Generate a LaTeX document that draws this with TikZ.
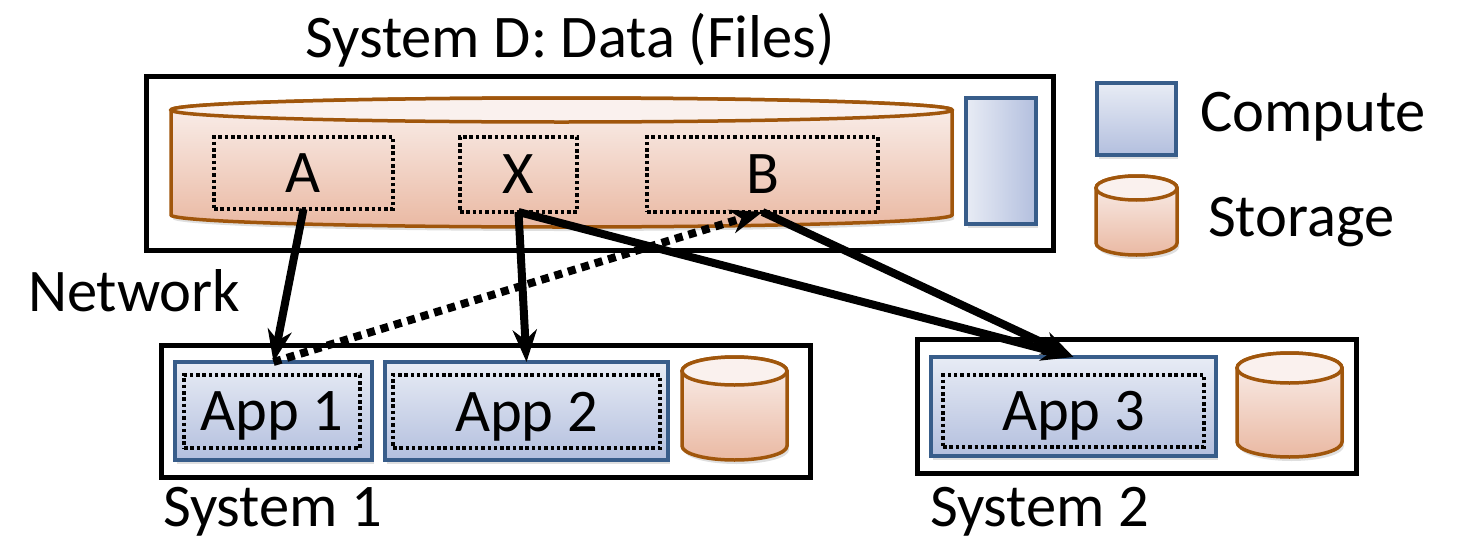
\documentclass[tikz,border=0pt]{standalone}
\usepackage{fontspec}
\setmainfont{Carlito}
\usetikzlibrary{arrows.meta,shadows}
\definecolor{cEdge}{HTML}{385D8A}
\definecolor{cTop}{HTML}{E8ECF5}
\definecolor{cBot}{HTML}{B3BFDE}
\definecolor{sEdge}{HTML}{A0560C}
\definecolor{sTop}{HTML}{FAF1EE}
\definecolor{sBot}{HTML}{EAB9A3}
\newcommand\storecyl[5]{%
  \pgfmathsetmacro\cylrx{(#2-#1)/2}%
  \pgfmathsetmacro\cylcx{(#2+#1)/2}%
  \shadedraw[storage] (#1,#3) -- (#1,#4)
    arc[start angle=180,end angle=360,x radius=\cylrx pt,y radius=#5pt]
    -- (#2,#3)
    arc[start angle=0,end angle=180,x radius=\cylrx pt,y radius=#5pt] -- cycle;
  \draw[line width=3.5pt,draw=sEdge,fill=sTop] (\cylcx,#3) ellipse[x radius=\cylrx pt,y radius=#5pt];
}
\begin{document}
\begin{tikzpicture}[x=1pt,y=-1pt,
  every node/.style={font=\fontsize{60.5}{72}\selectfont,inner sep=0pt,outer sep=0pt},
  sysbox/.style={draw=black,line width=5pt,fill=white},
  compute/.style={draw=cEdge,line width=3.5pt,top color=cTop,bottom color=cBot,
     drop shadow={opacity=0.25,shadow xshift=2pt,shadow yshift=-4pt}},
  storage/.style={draw=sEdge,line width=3.5pt,top color=sTop,bottom color=sBot,
     drop shadow={opacity=0.25,shadow xshift=2pt,shadow yshift=-4pt}},
  dotbox/.style={draw=black,line width=3.5pt,dash pattern=on 3.5pt off 2.8pt},
  arr/.style={line width=8pt,-{Stealth[length=32pt,width=24pt,inset=10pt]}},
]
\useasboundingbox (0,0) rectangle (1457,541);

% System D
\node[anchor=base] (titleD) at (570,57) {System D: Data (Files)};
\node[sysbox,minimum width=907pt,minimum height=174pt] (sysD) at (599.5,163) {};
\storecyl{171}{952}{110}{215}{12}
\node[draw=cEdge,line width=3.5pt,left color=cTop,right color=cBot,
      drop shadow={opacity=0.25,shadow xshift=2pt,shadow yshift=-4pt},
      minimum width=70pt,minimum height=126pt] (computeD) at (1001,161) {};
\node[dotbox,minimum width=179pt,minimum height=72pt] (A) at (303.5,173) {A};
\node[dotbox,minimum width=117pt,minimum height=75pt] (X) at (518.5,174.5) {X};
\node[dotbox,minimum width=231pt,minimum height=75pt] (B) at (762.5,174.5) {B};

% Legend
\node[compute,minimum width=79pt,minimum height=72pt] (legC) at (1136.5,119) {};
\node[anchor=base west] (legCt) at (1200,131) {Compute};
\storecyl{1096}{1177}{188}{243}{12}
\node[anchor=base west] (legSt) at (1208,236) {Storage};

% Network label
\node[anchor=base west] (net) at (28,311) {Network};

% System 1
\node[sysbox,minimum width=649pt,minimum height=132pt] (sys1) at (485.5,411) {};
\node[compute,minimum width=197pt,minimum height=98pt] (app1) at (273.5,411) {};
\node[dotbox,minimum width=176pt,minimum height=73pt,text depth=0pt] (app1i) at (272,411.5) {App 1};
\node[compute,minimum width=283pt,minimum height=98pt] (app2) at (526.5,411) {};
\node[dotbox,minimum width=267pt,minimum height=73pt,text depth=0pt] (app2i) at (526.5,411.5) {App 2};
\storecyl{682}{787}{371}{446}{14}
\node[anchor=base west] (sys1t) at (163,526) {System 1};

% System 2
\node[sysbox,minimum width=439pt,minimum height=134pt] (sys2) at (1136.5,406) {};
\node[compute,minimum width=285pt,minimum height=99pt] (app3) at (1073.5,406.5) {};
\node[dotbox,minimum width=261pt,minimum height=72pt,text depth=0pt] (app3i) at (1073.5,411) {App 3};
\storecyl{1237}{1342}{368}{442}{15}
\node[anchor=base west] (sys2t) at (930,526) {System 2};

% Arrows
\draw[arr] (A.south) -- (app1.north);
\draw[arr] (X.south) -- (app2.north);
\draw[arr] (X.south) -- (app3.north);
\draw[arr] (B.south) -- (app3.north);
\draw[arr,dash pattern=on 8pt off 6pt] (app1.north) -- (B.south);
\end{tikzpicture}
\end{document}
